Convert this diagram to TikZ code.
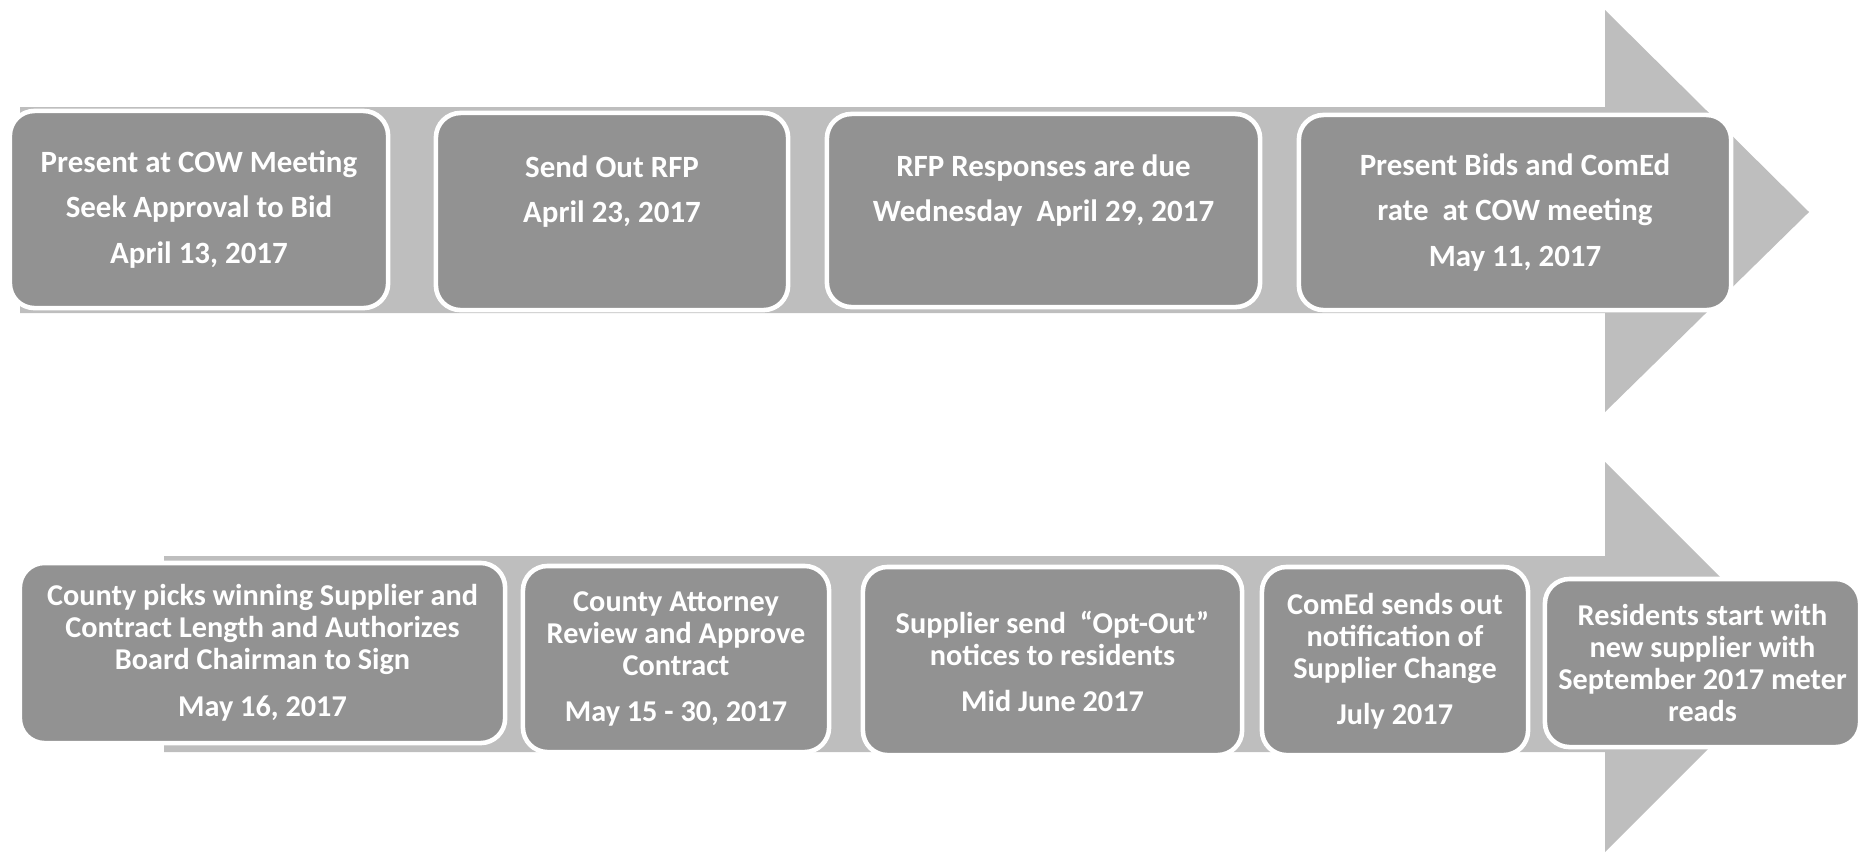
\documentclass[tikz,border=0pt]{standalone}
\usepackage{fontspec}
\setmainfont{Carlito}
\usepackage{tikz}
\definecolor{boxgray}{RGB}{146,146,146}
\definecolor{arrowgray}{RGB}{190,190,190}

\begin{document}
\begin{tikzpicture}[x=0.01cm,y=-0.01cm,
  stepbox/.style={draw=white,line width=1.3pt,fill=boxgray,rounded corners=7pt,
    text=white,inner sep=0pt,align=center},
  toprow/.style={stepbox,font=\bfseries\fontsize{8.8}{12.9}\selectfont},
  botrow/.style={stepbox,font=\bfseries\fontsize{8.6}{9.1}\selectfont}]
\useasboundingbox (0,0) rectangle (1864,853);
% big arrows behind the steps
\fill[arrowgray] (20,107) -- (1605,107) -- (1605,10) -- (1809,212)
  -- (1605,412) -- (1605,313) -- (20,313) -- cycle;
\fill[arrowgray] (164,556) -- (1605,556) -- (1605,462) -- (1800,657)
  -- (1605,852) -- (1605,752) -- (164,752) -- cycle;
% first row
\node[toprow,minimum width=3.78cm,minimum height=1.97cm] (cow)  at (199,209.5)
  {Present at COW Meeting\\Seek Approval to Bid\\April 13, 2017};
\node[toprow,minimum width=3.52cm,minimum height=1.97cm] (rfp)  at (612,211.5)
  {Send Out RFP\\April 23, 2017\\\mbox{}};
\node[toprow,minimum width=4.33cm,minimum height=1.93cm] (due)  at (1043.5,210.5)
  {RFP Responses are due\\Wednesday~~April 29, 2017\\\mbox{}};
\node[toprow,minimum width=4.32cm,minimum height=1.95cm] (bids) at (1515,212.5)
  {Present Bids and ComEd\\rate~~at COW meeting\\May 11, 2017};
% second row
\node[botrow,minimum width=4.85cm,minimum height=1.80cm] (pick)   at (262.5,653)
  {County picks winning Supplier and\\Contract Length and Authorizes\\Board Chairman to Sign\\[4.2pt]May 16, 2017};
\node[botrow,minimum width=3.06cm,minimum height=1.86cm] (review) at (676,659)
  {County Attorney\\Review and Approve\\Contract\\[4pt]May 15 - 30, 2017};
\node[botrow,minimum width=3.79cm,minimum height=1.88cm] (optout) at (1052.5,661)
  {Supplier send~~``Opt-Out''\\notices to residents\\[4pt]Mid June 2017};
\node[botrow,minimum width=2.66cm,minimum height=1.88cm] (notify) at (1395,661)
  {ComEd sends out\\notification of\\Supplier Change\\[4pt]July 2017};
\node[botrow,minimum width=3.15cm,minimum height=1.68cm] (start)  at (1702.5,663)
  {Residents start with\\new supplier with\\September 2017 meter\\reads};
\end{tikzpicture}
\end{document}
